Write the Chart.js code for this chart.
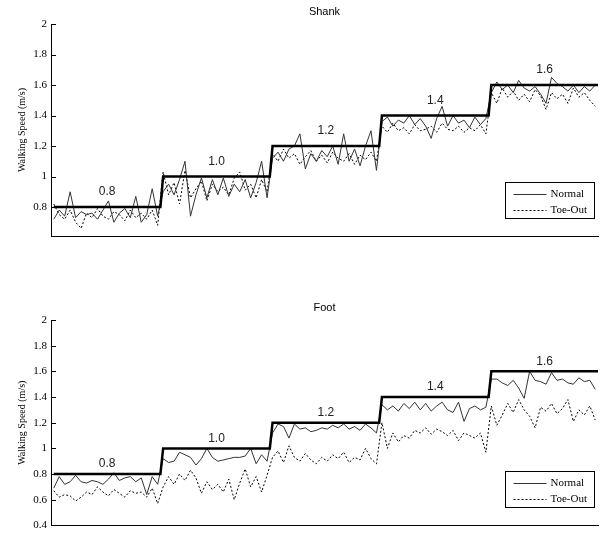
<!DOCTYPE html>
<html>
<head>
<meta charset="utf-8">
<script src="https://cdn.jsdelivr.net/npm/chart.js@4.4.0/dist/chart.umd.min.js"></script>
<style>
  html, body { margin: 0; padding: 0; background: #fff; }
  body { width: 604px; height: 536px; position: relative; overflow: hidden; }
  .panel { position: absolute; left: 0; width: 604px; }
  #shankBox { top: 0; height: 262px; }
  #footBox { top: 262px; height: 274px; }
</style>
</head>
<body>
<div class="panel" id="shankBox"><canvas id="shankChart"></canvas></div>
<div class="panel" id="footBox"><canvas id="footChart"></canvas></div>
<script>
// ===== data =====
const stageLevels = [0.8, 1.0, 1.2, 1.4, 1.6];
const stageLabels = ['0.8', '1.0', '1.2', '1.4', '1.6'];
const samplesPerStage = 40;   // x index units per speed stage
const sampleStep = 2;         // measured series: one value every 2 x units

const yTicksShank = [0.8, 1, 1.2, 1.4, 1.6, 1.8, 2];
const yTicksFoot = [0.4, 0.6, 0.8, 1, 1.2, 1.4, 1.6, 1.8, 2];

const shankNormal = [
  0.72, 0.78, 0.74, 0.90, 0.73, 0.77, 0.75, 0.76, 0.72, 0.78, 0.84, 0.70, 0.76, 0.79, 0.73, 0.87, 0.70, 0.75, 0.92, 0.74,
  0.90, 0.95, 0.88, 0.98, 1.10, 0.74, 0.88, 0.99, 0.86, 0.98, 0.88, 0.99, 0.87, 0.95, 0.90, 0.98, 0.86, 0.96, 1.10, 0.86,
  1.12, 1.16, 1.10, 1.18, 1.20, 1.28, 1.05, 1.15, 1.10, 1.17, 1.13, 1.20, 1.08, 1.28, 1.10, 1.18, 1.07, 1.20, 1.30, 1.04,
  1.36, 1.39, 1.33, 1.37, 1.35, 1.40, 1.34, 1.38, 1.33, 1.25, 1.38, 1.46, 1.33, 1.40, 1.35, 1.37, 1.32, 1.39, 1.34, 1.38,
  1.55, 1.62, 1.57, 1.60, 1.55, 1.63, 1.58, 1.56, 1.59, 1.54, 1.48, 1.65, 1.61, 1.59, 1.56, 1.60, 1.55, 1.59, 1.56, 1.60
];
const shankToeOut = [
  0.82, 0.75, 0.72, 0.78, 0.70, 0.66, 0.76, 0.73, 0.79, 0.74, 0.72, 0.77, 0.75, 0.71, 0.78, 0.73, 0.76, 0.72, 0.78, 0.68,
  1.03, 0.88, 0.96, 0.82, 1.04, 0.86, 0.92, 0.97, 0.84, 0.95, 0.90, 0.93, 0.88, 0.99, 1.03, 0.91, 0.95, 0.86, 0.98, 0.90,
  1.15, 1.10, 1.18, 1.12, 1.15, 1.08, 1.13, 1.17, 1.10, 1.14, 1.09, 1.16, 1.12, 1.10, 1.15, 1.08, 1.14, 1.11, 1.16, 1.10,
  1.33, 1.29, 1.35, 1.30, 1.32, 1.28, 1.34, 1.30, 1.31, 1.33, 1.29, 1.35, 1.31, 1.30, 1.33, 1.29, 1.32, 1.30, 1.34, 1.28,
  1.55, 1.48, 1.58, 1.52, 1.56, 1.50, 1.54, 1.49, 1.57, 1.53, 1.44, 1.55, 1.51, 1.54, 1.48, 1.58, 1.52, 1.55, 1.50, 1.46
];
const footNormal = [
  0.69, 0.78, 0.72, 0.74, 0.79, 0.74, 0.73, 0.75, 0.74, 0.72, 0.76, 0.81, 0.75, 0.77, 0.78, 0.74, 0.77, 0.64, 0.78, 0.72,
  0.92, 0.89, 0.90, 0.97, 0.95, 0.93, 0.87, 0.92, 1.00, 0.93, 0.90, 0.91, 0.92, 0.93, 0.93, 0.94, 1.00, 0.88, 0.95, 0.90,
  1.12, 1.19, 1.17, 1.08, 1.19, 1.15, 1.16, 1.13, 1.14, 1.16, 1.15, 1.18, 1.16, 1.19, 1.15, 1.17, 1.14, 1.19, 1.16, 1.12,
  1.34, 1.30, 1.33, 1.29, 1.35, 1.31, 1.36, 1.30, 1.35, 1.29, 1.33, 1.36, 1.30, 1.28, 1.36, 1.21, 1.31, 1.33, 1.30, 1.32,
  1.54, 1.54, 1.51, 1.49, 1.53, 1.47, 1.39, 1.60, 1.53, 1.52, 1.50, 1.59, 1.53, 1.54, 1.51, 1.50, 1.55, 1.52, 1.53, 1.46
];
const footToeOut = [
  0.67, 0.62, 0.64, 0.63, 0.59, 0.62, 0.66, 0.64, 0.70, 0.66, 0.63, 0.68, 0.65, 0.62, 0.67, 0.65, 0.66, 0.62, 0.69, 0.57,
  0.70, 0.78, 0.72, 0.80, 0.75, 0.83, 0.77, 0.65, 0.74, 0.68, 0.72, 0.66, 0.76, 0.60, 0.73, 0.84, 0.70, 0.78, 0.66, 0.79,
  0.93, 0.98, 0.89, 1.02, 0.93, 0.90, 0.96, 0.91, 0.88, 0.93, 0.90, 0.95, 0.92, 0.97, 0.89, 0.93, 0.91, 1.00, 0.92, 0.88,
  1.20, 1.00, 1.12, 1.05, 1.10, 1.08, 1.14, 1.12, 1.16, 1.11, 1.15, 1.13, 1.10, 1.14, 1.06, 1.12, 1.10, 1.08, 1.12, 0.97,
  1.33, 1.18, 1.26, 1.35, 1.28, 1.38, 1.30, 1.25, 1.16, 1.32, 1.29, 1.35, 1.27, 1.31, 1.38, 1.21, 1.30, 1.26, 1.33, 1.22
];

// ===== helpers =====
function toPoints(values) {
  return values.map((v, i) => ({ x: 1 + i * sampleStep, y: v }));
}

function stairPoints() {
  const pts = [];
  stageLevels.forEach((lvl, s) => {
    pts.push({ x: s * samplesPerStage + 1, y: lvl });
    pts.push({ x: (s + 1) * samplesPerStage, y: lvl });
  });
  return pts;
}

// titles, stage labels, inward ticks, legend, y title
const panelDecor = {
  id: 'panelDecor',
  afterDraw(chart, args, opts) {
    const ctx = chart.ctx;
    const area = chart.chartArea;
    const xs = chart.scales.x;
    const ys = chart.scales.y;
    ctx.save();
    ctx.fillStyle = '#000';

    // panel title
    ctx.font = '11px "Liberation Sans", Arial, sans-serif';
    ctx.textAlign = 'center';
    ctx.textBaseline = 'middle';
    ctx.fillText(opts.title, (area.left + area.right) / 2, area.top - 12);

    // speed labels over each step
    ctx.font = '12px "Liberation Sans", Arial, sans-serif';
    ctx.fillStyle = '#222';
    stageLevels.forEach((lvl, s) => {
      const px = xs.getPixelForValue(s * samplesPerStage + samplesPerStage / 2 + 0.5);
      const py = ys.getPixelForValue(lvl) - opts.lift;
      ctx.fillText(stageLabels[s], px, py);
    });

    // inward tick marks
    ctx.strokeStyle = '#000';
    ctx.lineWidth = 1;
    ys.ticks.forEach(t => {
      const py = Math.round(ys.getPixelForValue(t.value)) + 0.5;
      ctx.beginPath();
      ctx.moveTo(area.left, py);
      ctx.lineTo(area.left + 5, py);
      ctx.stroke();
    });

    // y axis title
    ctx.save();
    ctx.translate(22, (area.top + area.bottom) / 2);
    ctx.rotate(-Math.PI / 2);
    ctx.fillStyle = '#000';
    ctx.font = '10px "Liberation Serif", "Times New Roman", serif';
    ctx.fillText('Walking Speed (m/s)', 0, 0);
    ctx.restore();

    // legend box
    const bw = 89, bh = 36;
    const bx = Math.round(area.right - 4 - bw) + 0.5;
    const by = Math.round(area.bottom - 18 - bh) + 0.5;
    ctx.fillStyle = '#fff';
    ctx.fillRect(bx, by, bw, bh);
    ctx.strokeStyle = '#000';
    ctx.lineWidth = 1;
    ctx.strokeRect(bx, by, bw, bh);
    ctx.font = '11px "Liberation Serif", "Times New Roman", serif';
    ctx.textAlign = 'left';
    [1, 2].forEach((di, row) => {
      const ds = chart.data.datasets[di];
      const ly = Math.round(by + 11 + row * 16) + 0.5;
      ctx.strokeStyle = ds.borderColor;
      ctx.lineWidth = ds.borderWidth;
      ctx.setLineDash(ds.borderDash || []);
      ctx.beginPath();
      ctx.moveTo(bx + 8, ly);
      ctx.lineTo(bx + 41, ly);
      ctx.stroke();
      ctx.setLineDash([]);
      ctx.fillStyle = '#000';
      ctx.fillText(ds.label, bx + 45, ly);
    });
    ctx.restore();
  }
};

function makeChart(canvasId, normal, toeOut, yMin, yTicks, title, lift, padTop, padBottom) {
  return new Chart(document.getElementById(canvasId), {
    type: 'line',
    data: {
      datasets: [
        { label: 'Target', data: stairPoints(), borderColor: '#000', borderWidth: 2.5, pointRadius: 0, tension: 0 },
        { label: 'Normal', data: toPoints(normal), borderColor: '#333', borderWidth: 1, pointRadius: 0, tension: 0 },
        { label: 'Toe-Out', data: toPoints(toeOut), borderColor: '#000', borderWidth: 1, borderDash: [2, 2], pointRadius: 0, tension: 0 }
      ]
    },
    options: {
      responsive: true,
      maintainAspectRatio: false,
      animation: false,
      layout: { padding: { left: 0, right: 6, top: padTop, bottom: padBottom } },
      scales: {
        x: {
          type: 'linear', min: 0, max: 200,
          grid: { display: false, drawTicks: false },
          ticks: { display: false },
          border: { color: '#000', width: 1 },
          afterFit: s => { s.height = 0; }
        },
        y: {
          min: yMin, max: 2,
          afterBuildTicks: s => { s.ticks = yTicks.map(v => ({ value: v })); },
          grid: { display: false, drawTicks: false },
          border: { color: '#000', width: 1 },
          ticks: {
            color: '#000', padding: 4,
            font: { family: '"Liberation Serif", "Times New Roman", serif', size: 11 },
            callback: v => String(v)
          },
          afterFit: s => { s.width = 51; }
        }
      },
      plugins: {
        legend: { display: false },
        tooltip: { enabled: false },
        panelDecor: { title: title, lift: lift }
      }
    },
    plugins: [panelDecor]
  });
}

const shankChart = makeChart('shankChart', shankNormal, shankToeOut, 0.61, yTicksShank, 'Shank', 15, 24, 26);
const footChart = makeChart('footChart', footNormal, footToeOut, 0.4, yTicksFoot, 'Foot', 10, 58, 4);
</script>
</body>
</html>
